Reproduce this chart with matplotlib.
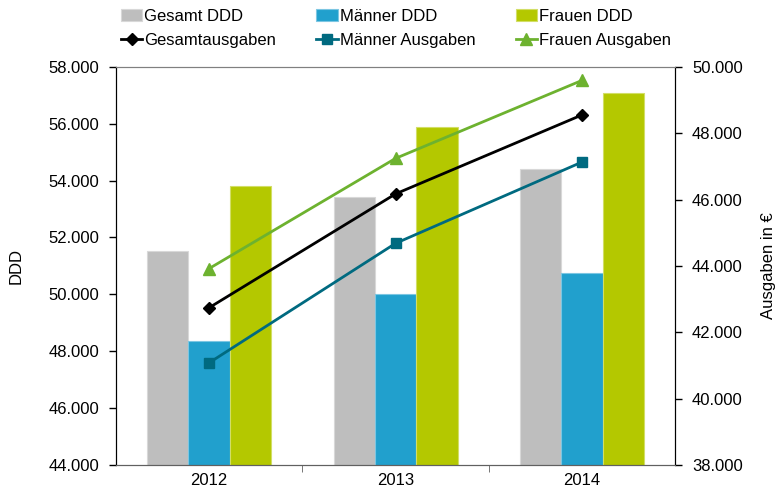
import numpy as np
import matplotlib.pyplot as plt
from matplotlib.ticker import FuncFormatter

plt.rcParams['font.family'] = ['Liberation Sans', 'DejaVu Sans']

years = ['2012', '2013', '2014']
gesamt_ddd = [51530, 53420, 54400]
maenner_ddd = [48360, 50010, 50740]
frauen_ddd = [53810, 55880, 57070]
gesamt_ausg = [42740, 46170, 48550]
maenner_ausg = [41080, 44680, 47130]
frauen_ausg = [43920, 47240, 49590]

fig = plt.figure(figsize=(7.78, 4.91), dpi=100)
ax = fig.add_axes([0.149, 0.053, 0.719, 0.811])
ax2 = ax.twinx()

x = np.arange(len(years))
w = 0.222
b1 = ax.bar(x - w, gesamt_ddd, w, color='#BEBEBE', edgecolor='#D8D8D8', linewidth=0.8, label='Gesamt DDD')
b2 = ax.bar(x, maenner_ddd, w, color='#21A0CD', edgecolor='#7CC6E2', linewidth=0.8, label='Männer DDD')
b3 = ax.bar(x + w, frauen_ddd, w, color='#B4C800', edgecolor='#D2DE66', linewidth=0.8, label='Frauen DDD')

l1, = ax2.plot(x, gesamt_ausg, color='black', lw=2, marker='D', ms=6, label='Gesamtausgaben')
l2, = ax2.plot(x, maenner_ausg, color='#006A80', lw=2, marker='s', ms=6.5, label='Männer Ausgaben')
l3, = ax2.plot(x, frauen_ausg, color='#6DB22F', lw=2, marker='^', ms=8, label='Frauen Ausgaben')

fmt = FuncFormatter(lambda v, p: f'{v:,.0f}'.replace(',', '.'))
ax.set_xlim(-0.5, 2.5)
ax.set_ylim(44000, 58000)
ax.set_yticks(np.arange(44000, 58001, 2000))
ax.yaxis.set_major_formatter(fmt)
ax2.set_ylim(38000, 50000)
ax2.set_yticks(np.arange(38000, 50001, 2000))
ax2.yaxis.set_major_formatter(fmt)

# labels at category centres, small ticks between categories
ax.set_xticks(x)
ax.set_xticklabels(years)
ax.set_xticks([0.5, 1.5], minor=True)
ax.tick_params(axis='x', which='major', length=0, labelsize=12, pad=6)
ax.tick_params(axis='x', which='minor', direction='out', length=5, color='#606060')
ax.tick_params(axis='y', direction='out', length=5, labelsize=12, width=1, pad=7)
ax2.tick_params(axis='y', direction='out', length=5, labelsize=12, width=1, pad=7)

for a in (ax, ax2):
    a.spines['top'].set_color('#808080')
    a.spines['bottom'].set_color('#606060')
    a.spines['left'].set_color('black')
    a.spines['right'].set_color('black')

ax.set_ylabel('DDD', fontsize=12, labelpad=18)
ax2.set_ylabel('Ausgaben in €', fontsize=12, labelpad=13)

handles = [b1, l1, b2, l2, b3, l3]
fig.legend(handles, [h.get_label() for h in handles], ncol=3, loc='upper left',
           bbox_to_anchor=(0.136, 1.012), frameon=False, fontsize=12,
           handlelength=1.3, handletextpad=0.12, columnspacing=2.4, labelspacing=0.55)

fig.savefig('out.png', dpi=100)
